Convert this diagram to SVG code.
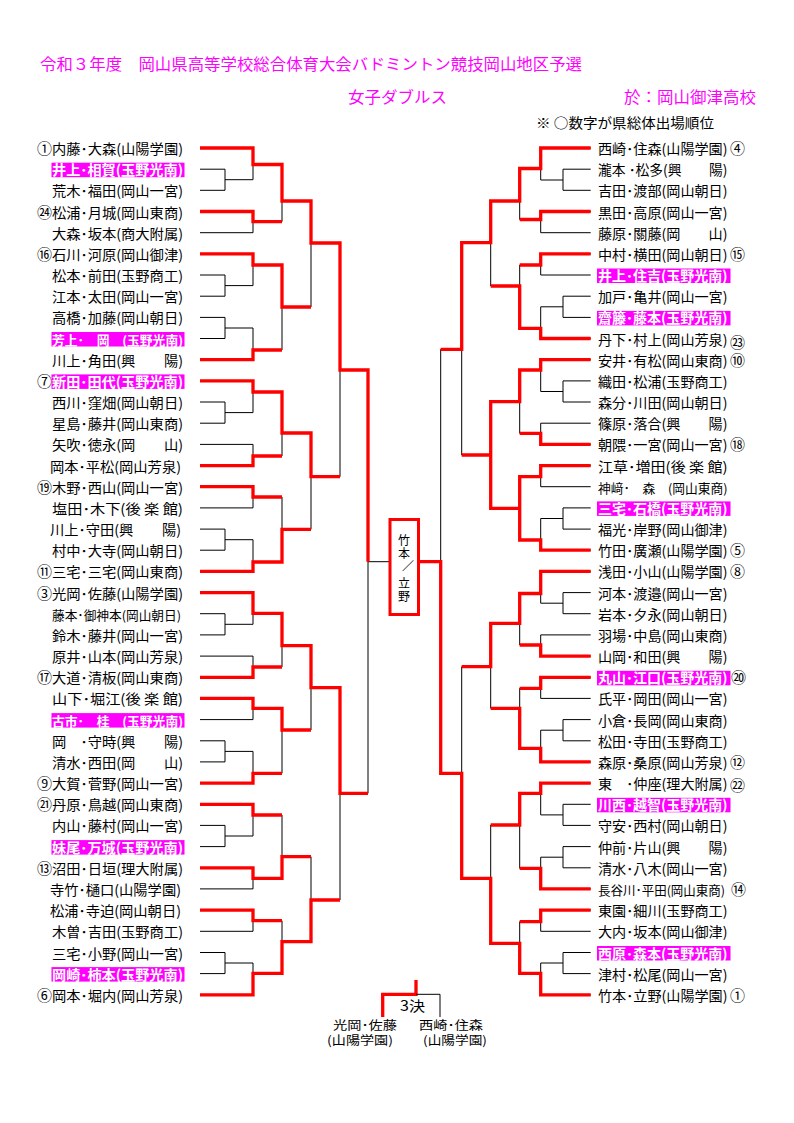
<svg xmlns="http://www.w3.org/2000/svg" width="794" height="1123" viewBox="0 0 794 1123">
<style>
text{font-family:'Noto Sans CJK JP','Noto Sans CJK SC',sans-serif}
.hd{font-size:15.5px;fill:#f0f}
.nt{font-size:13.5px;fill:#000}
.nm{font-size:14px;fill:#000}
.nc{font-size:12.6px;fill:#000}
.sm{font-size:12px;fill:#000}
.hl{fill:#fff;font-weight:bold}
.bg{fill:#f0f}
.sdl{font-size:15px;fill:#000;text-anchor:end}
.sdr{font-size:15px;fill:#000}
.k{fill:none;stroke:#000;stroke-width:1}
.r{fill:none;stroke:#f00;stroke-width:3.3;stroke-linejoin:miter;stroke-linecap:butt}
.bx{font-size:12px;fill:#000;text-anchor:middle}
</style>
<rect x="0" y="0" width="794" height="1123" fill="#fff"/>
<g id="header">
<text class="hd" x="40" y="70" textLength="542" lengthAdjust="spacingAndGlyphs">令和３年度　岡山県高等学校総合体育大会バドミントン競技岡山地区予選</text>
<text class="hd" x="348" y="103" textLength="99" lengthAdjust="spacingAndGlyphs">女子ダブルス</text>
<text class="hd" x="624" y="103" textLength="132" lengthAdjust="spacingAndGlyphs">於：岡山御津高校</text>
<text class="nt" x="536" y="128" textLength="178" lengthAdjust="spacingAndGlyphs">※ ○数字が県総体出場順位</text>
</g>
<g id="connectors">
<path class="k" d="M200 148H253M200 169.2H225M200 190.3H225M200 211.5H253M200 232.7H253M200 253.9H253M200 275H225M200 296.2H225M200 317.4H225M200 338.5H225M200 359.7H253M200 380.9H253M200 402H225M200 423.2H225M200 444.4H253M200 465.6H253M200 486.7H253M200 507.9H253M200 529.1H225M200 550.2H225M200 571.4H253M200 592.6H253M200 613.7H225M200 634.9H225M200 656.1H253M200 677.3H253M200 698.4H253M200 719.6H253M200 740.8H225M200 761.9H225M200 783.1H253M200 804.3H253M200 825.4H225M200 846.6H225M200 867.8H253M200 888.9H253M200 910.1H253M200 931.3H253M200 952.5H225M200 973.6H225M200 994.8H253
M225 169.2V190.3M225 179.7H253M225 275V296.2M225 285.6H253M225 317.4V338.5M225 328H253M225 402V423.2M225 412.6H253M225 529.1V550.2M225 539.7H253M225 613.7V634.9M225 624.3H253M225 740.8V761.9M225 751.4H253M225 825.4V846.6M225 836H253M225 952.5V973.6M225 963H253
M253 148V179.7M253 164.5H282M253 211.5V232.7M253 221.7H282M253 253.9V285.6M253 265H282M253 328V359.7M253 350H282M253 380.9V412.6M253 392H282M253 444.4V465.6M253 456H282M253 486.7V507.9M253 497H282M253 539.7V571.4M253 562H282M253 592.6V624.3M253 613.3H282M253 656.1V677.3M253 667H282M253 698.4V719.6M253 708.3H282M253 751.4V783.1M253 773.3H282M253 804.3V836M253 815H282M253 867.8V888.9M253 878.3H282M253 910.1V931.3M253 920.7H282M253 963V994.8M253 973.3H282
M282 164.5V221.7M282 201H311M282 265V350M282 307H311M282 392V456M282 433H311M282 497V562M282 529.3H311M282 613.3V667M282 645.7H311M282 708.3V773.3M282 730H311M282 815V878.3M282 856.7H311M282 920.7V973.3M282 941.7H311
M311 201V307M311 243H340M311 433V529.3M311 476.7H340M311 645.7V730M311 687.7H340M311 856.7V941.7M311 900H340
M340 243V476.7M340 370H368M340 687.7V900M340 793.3H368M368 370V793.3M368 561.7H390"/>
<path class="k" d="M590.7 148H540.7M590.7 169.2H563M590.7 190.3H563M590.7 211.5H540.7M590.7 232.7H540.7M590.7 253.9H540.7M590.7 275H540.7M590.7 296.2H563M590.7 317.4H563M590.7 338.5H540.7M590.7 359.7H540.7M590.7 380.9H563M590.7 402H563M590.7 423.2H540.7M590.7 444.4H540.7M590.7 465.6H540.7M590.7 486.7H540.7M590.7 507.9H563M590.7 529.1H563M590.7 550.2H540.7M590.7 571.4H540.7M590.7 592.6H563M590.7 613.7H563M590.7 634.9H540.7M590.7 656.1H540.7M590.7 677.3H540.7M590.7 698.4H540.7M590.7 719.6H563M590.7 740.8H563M590.7 761.9H540.7M590.7 783.1H540.7M590.7 804.3H563M590.7 825.4H563M590.7 846.6H563M590.7 867.8H563M590.7 888.9H540.7M590.7 910.1H540.7M590.7 931.3H540.7M590.7 952.5H563M590.7 973.6H563M590.7 994.8H540.7
M563 169.2V190.3M563 180H540.7M563 296.2V317.4M563 306.8H540.7M563 380.9V402M563 391.5H540.7M563 507.9V529.1M563 518.5H540.7M563 592.6V613.7M563 603.2H540.7M563 719.6V740.8M563 730.2H540.7M563 804.3V825.4M563 814.9H540.7M563 846.6V867.8M563 857.2H540.7M563 952.5V973.6M563 963H540.7
M540.7 148V180M540.7 168.5H519.7M540.7 211.5V232.7M540.7 219.5H519.7M540.7 253.9V275M540.7 265H519.7M540.7 306.8V338.5M540.7 328.3H519.7M540.7 359.7V391.5M540.7 370H519.7M540.7 423.2V444.4M540.7 433.3H519.7M540.7 465.6V486.7M540.7 476.7H519.7M540.7 518.5V550.2M540.7 540H519.7M540.7 571.4V603.2M540.7 593.5H519.7M540.7 634.9V656.1M540.7 645H519.7M540.7 677.3V698.4M540.7 688.3H519.7M540.7 730.2V761.9M540.7 748.3H519.7M540.7 783.1V814.9M540.7 793.3H519.7M540.7 857.2V888.9M540.7 868.3H519.7M540.7 910.1V931.3M540.7 921.7H519.7M540.7 963V994.8M540.7 973.3H519.7
M519.7 168.5V219.5M519.7 201H490.7M519.7 265V328.3M519.7 286H490.7M519.7 370V433.3M519.7 401.7H490.7M519.7 476.7V540M519.7 508.3H490.7M519.7 593.5V645M519.7 623.3H490.7M519.7 688.3V748.3M519.7 708.3H490.7M519.7 793.3V868.3M519.7 825H490.7M519.7 921.7V973.3M519.7 943.3H490.7
M490.7 201V286M490.7 242.7H461.7M490.7 401.7V508.3M490.7 455H461.7M490.7 623.3V708.3M490.7 666.7H461.7M490.7 825V943.3M490.7 878.3H461.7
M461.7 242.7V455M461.7 349.3H440.7M461.7 666.7V878.3M461.7 773.3H440.7M440.7 349.3V773.3M440.7 561.7H419"/>
<path class="r" d="M200 148H253V164.5H282V201H311V243H340V370H368V561.7
M200 211.5H253V221.7H282
M200 253.9H253V265H282V307H311
M200 359.7H253V350H282
M200 380.9H253V392H282V433H311V476.7H340
M200 465.6H253V456H282
M200 486.7H253V497H282
M200 571.4H253V562H282V529.3H311
M200 592.6H253V613.3H282V645.7H311V687.7H340V793.3H368
M200 677.3H253V667H282
M200 698.4H253V708.3H282V730H311
M200 783.1H253V773.3H282
M200 804.3H253V815H282
M200 867.8H253V878.3H282V856.7H311
M200 910.1H253V920.7H282
M200 994.8H253V973.3H282V941.7H311V900H340"/>
<path class="r" d="M590.7 148H540.7V168.5H519.7V201H490.7V242.7H461.7V349.3H440.7
M590.7 211.5H540.7V219.5H519.7
M590.7 253.9H540.7V265H519.7
M590.7 338.5H540.7V328.3H519.7V286H490.7
M590.7 359.7H540.7V370H519.7V401.7H490.7V455H461.7
M590.7 444.4H540.7V433.3H519.7
M590.7 465.6H540.7V476.7H519.7V508.3
M590.7 550.2H540.7V540H519.7V508.3H490.7V455
M590.7 571.4H540.7V593.5H519.7V623.3H490.7V666.7H461.7
M590.7 656.1H540.7V645H519.7
M590.7 677.3H540.7V688.3H519.7
M590.7 761.9H540.7V748.3H519.7V708.3H490.7
M590.7 783.1H540.7V793.3H519.7V825H490.7
M590.7 888.9H540.7V868.3H519.7
M590.7 910.1H540.7V921.7H519.7
M590.7 994.8H540.7V973.3H519.7V943.3H490.7V878.3H461.7V773.3H440.7V561.7H419"/>
<path class="r" d="M416 980V994.3H382.7V1017"/>
<path class="k" d="M416 994.3H440V1017"/>
</g>
<g id="final">
<rect x="390" y="519.5" width="28.5" height="95" fill="#fff" stroke="#f00" stroke-width="3"/>
<text class="bx" x="404" y="545">竹</text>
<text class="bx" x="404" y="558">本</text>
<text class="bx" x="408" y="571">／</text>
<text class="bx" x="404" y="588">立</text>
<text class="bx" x="404" y="601">野</text>
</g>
<g id="third">
<text class="nm" x="400" y="1011" textLength="25" lengthAdjust="spacingAndGlyphs">3決</text>
<text class="sm" x="333" y="1030" textLength="64" lengthAdjust="spacingAndGlyphs">光岡･佐藤</text>
<text class="sm" x="327" y="1045" textLength="66" lengthAdjust="spacingAndGlyphs">(山陽学園)</text>
<text class="sm" x="419" y="1030" textLength="64" lengthAdjust="spacingAndGlyphs">西崎･住森</text>
<text class="sm" x="423" y="1045" textLength="64" lengthAdjust="spacingAndGlyphs">(山陽学園)</text>
</g>
<g id="L01"><text class="sdl" x="52" y="154">①</text><text class="nm" x="52" y="154" textLength="131" lengthAdjust="spacingAndGlyphs">内藤･大森(山陽学園)</text></g>
<g id="L02"><rect class="bg" x="51.5" y="162.7" width="133" height="14.5"/><text class="nm hl" x="52" y="175.2" textLength="131" lengthAdjust="spacingAndGlyphs">井上･相賀(玉野光南)</text></g>
<g id="L03"><text class="nm" x="52" y="196.3" textLength="131" lengthAdjust="spacingAndGlyphs">荒木･福田(岡山一宮)</text></g>
<g id="L04"><text class="sdl" x="52" y="217.5">㉔</text><text class="nm" x="52" y="217.5" textLength="131" lengthAdjust="spacingAndGlyphs">松浦･月城(岡山東商)</text></g>
<g id="L05"><text class="nm" x="52" y="238.7" textLength="131" lengthAdjust="spacingAndGlyphs">大森･坂本(商大附属)</text></g>
<g id="L06"><text class="sdl" x="52" y="259.9">⑯</text><text class="nm" x="52" y="259.9" textLength="131" lengthAdjust="spacingAndGlyphs">石川･河原(岡山御津)</text></g>
<g id="L07"><text class="nm" x="52" y="281" textLength="131" lengthAdjust="spacingAndGlyphs">松本･前田(玉野商工)</text></g>
<g id="L08"><text class="nm" x="52" y="302.2" textLength="131" lengthAdjust="spacingAndGlyphs">江本･太田(岡山一宮)</text></g>
<g id="L09"><text class="nm" x="52" y="323.4" textLength="131" lengthAdjust="spacingAndGlyphs">高橋･加藤(岡山朝日)</text></g>
<g id="L10"><rect class="bg" x="51.5" y="332" width="133" height="14.5"/><text class="nc hl" x="52" y="344.5" textLength="131" lengthAdjust="spacingAndGlyphs">芳上･　岡　(玉野光南)</text></g>
<g id="L11"><text class="nm" x="52" y="365.7" textLength="131" lengthAdjust="spacingAndGlyphs">川上･角田(興　　陽)</text></g>
<g id="L12"><text class="sdl" x="52" y="386.9">⑦</text><rect class="bg" x="51.5" y="374.4" width="133" height="14.5"/><text class="nm hl" x="52" y="386.9" textLength="131" lengthAdjust="spacingAndGlyphs">新田･田代(玉野光南)</text></g>
<g id="L13"><text class="nm" x="52" y="408" textLength="131" lengthAdjust="spacingAndGlyphs">西川･窪畑(岡山朝日)</text></g>
<g id="L14"><text class="nm" x="52" y="429.2" textLength="131" lengthAdjust="spacingAndGlyphs">星島･藤井(岡山東商)</text></g>
<g id="L15"><text class="nm" x="52" y="450.4" textLength="131" lengthAdjust="spacingAndGlyphs">矢吹･徳永(岡　　山)</text></g>
<g id="L16"><text class="nm" x="50" y="471.6" textLength="131" lengthAdjust="spacingAndGlyphs">岡本･平松(岡山芳泉)</text></g>
<g id="L17"><text class="sdl" x="52" y="492.7">⑲</text><text class="nm" x="52" y="492.7" textLength="131" lengthAdjust="spacingAndGlyphs">木野･西山(岡山一宮)</text></g>
<g id="L18"><text class="nm" x="52" y="513.9" textLength="131" lengthAdjust="spacingAndGlyphs">塩田･木下(後 楽 館)</text></g>
<g id="L19"><text class="nm" x="50" y="535.1" textLength="131" lengthAdjust="spacingAndGlyphs">川上･守田(興　　陽)</text></g>
<g id="L20"><text class="nm" x="52" y="556.2" textLength="131" lengthAdjust="spacingAndGlyphs">村中･大寺(岡山朝日)</text></g>
<g id="L21"><text class="sdl" x="52" y="577.4">⑪</text><text class="nm" x="52" y="577.4" textLength="131" lengthAdjust="spacingAndGlyphs">三宅･三宅(岡山東商)</text></g>
<g id="L22"><text class="sdl" x="52" y="598.6">③</text><text class="nm" x="52" y="598.6" textLength="131" lengthAdjust="spacingAndGlyphs">光岡･佐藤(山陽学園)</text></g>
<g id="L23"><text class="nc" x="52" y="619.7" textLength="129" lengthAdjust="spacingAndGlyphs">藤本･御神本(岡山朝日)</text></g>
<g id="L24"><text class="nm" x="52" y="640.9" textLength="131" lengthAdjust="spacingAndGlyphs">鈴木･藤井(岡山一宮)</text></g>
<g id="L25"><text class="nm" x="52" y="662.1" textLength="131" lengthAdjust="spacingAndGlyphs">原井･山本(岡山芳泉)</text></g>
<g id="L26"><text class="sdl" x="52" y="683.3">⑰</text><text class="nm" x="52" y="683.3" textLength="131" lengthAdjust="spacingAndGlyphs">大道･清板(岡山東商)</text></g>
<g id="L27"><text class="nm" x="52" y="704.4" textLength="131" lengthAdjust="spacingAndGlyphs">山下･堀江(後 楽 館)</text></g>
<g id="L28"><rect class="bg" x="51.5" y="713.1" width="133" height="14.5"/><text class="nc hl" x="52" y="725.6" textLength="131" lengthAdjust="spacingAndGlyphs">古市･　桂　(玉野光南)</text></g>
<g id="L29"><text class="nm" x="52" y="746.8" textLength="131" lengthAdjust="spacingAndGlyphs">岡　･守時(興　　陽)</text></g>
<g id="L30"><text class="nm" x="52" y="767.9" textLength="131" lengthAdjust="spacingAndGlyphs">清水･西田(岡　　山)</text></g>
<g id="L31"><text class="sdl" x="52" y="789.1">⑨</text><text class="nm" x="52" y="789.1" textLength="131" lengthAdjust="spacingAndGlyphs">大賀･菅野(岡山一宮)</text></g>
<g id="L32"><text class="sdl" x="52" y="810.3">㉑</text><text class="nm" x="52" y="810.3" textLength="131" lengthAdjust="spacingAndGlyphs">丹原･鳥越(岡山東商)</text></g>
<g id="L33"><text class="nm" x="52" y="831.4" textLength="131" lengthAdjust="spacingAndGlyphs">内山･藤村(岡山一宮)</text></g>
<g id="L34"><rect class="bg" x="51.5" y="840.1" width="133" height="14.5"/><text class="nm hl" x="52" y="852.6" textLength="131" lengthAdjust="spacingAndGlyphs">妹尾･万城(玉野光南)</text></g>
<g id="L35"><text class="sdl" x="52" y="873.8">⑬</text><text class="nm" x="52" y="873.8" textLength="131" lengthAdjust="spacingAndGlyphs">沼田･日垣(理大附属)</text></g>
<g id="L36"><text class="nm" x="50" y="894.9" textLength="131" lengthAdjust="spacingAndGlyphs">寺竹･樋口(山陽学園)</text></g>
<g id="L37"><text class="nm" x="50" y="916.1" textLength="131" lengthAdjust="spacingAndGlyphs">松浦･寺迫(岡山朝日)</text></g>
<g id="L38"><text class="nm" x="52" y="937.3" textLength="131" lengthAdjust="spacingAndGlyphs">木曽･吉田(玉野商工)</text></g>
<g id="L39"><text class="nm" x="52" y="958.5" textLength="131" lengthAdjust="spacingAndGlyphs">三宅･小野(岡山一宮)</text></g>
<g id="L40"><rect class="bg" x="51.5" y="967.1" width="133" height="14.5"/><text class="nm hl" x="52" y="979.6" textLength="131" lengthAdjust="spacingAndGlyphs">岡崎･柿本(玉野光南)</text></g>
<g id="L41"><text class="sdl" x="52" y="1000.8">⑥</text><text class="nm" x="52" y="1000.8" textLength="131" lengthAdjust="spacingAndGlyphs">岡本･堀内(岡山芳泉)</text></g>
<g id="R01"><text class="nm" x="598" y="154" textLength="129.5" lengthAdjust="spacingAndGlyphs">西崎･住森(山陽学園)</text><text class="sdr" x="730" y="154">④</text></g>
<g id="R02"><text class="nm" x="598" y="175.2" textLength="129.5" lengthAdjust="spacingAndGlyphs">瀧本 ･松多(興　　陽)</text></g>
<g id="R03"><text class="nm" x="598" y="196.3" textLength="129.5" lengthAdjust="spacingAndGlyphs">吉田･渡部(岡山朝日)</text></g>
<g id="R04"><text class="nm" x="598" y="217.5" textLength="129.5" lengthAdjust="spacingAndGlyphs">黒田･高原(岡山一宮)</text></g>
<g id="R05"><text class="nm" x="598" y="238.7" textLength="129.5" lengthAdjust="spacingAndGlyphs">藤原･關藤(岡　　山)</text></g>
<g id="R06"><text class="nm" x="598" y="259.9" textLength="129.5" lengthAdjust="spacingAndGlyphs">中村･横田(岡山朝日)</text><text class="sdr" x="730" y="259.9">⑮</text></g>
<g id="R07"><rect class="bg" x="597" y="268.5" width="133.5" height="14.5"/><text class="nm hl" x="598" y="281" textLength="129.5" lengthAdjust="spacingAndGlyphs">井上･住吉(玉野光南)</text></g>
<g id="R08"><text class="nm" x="598" y="302.2" textLength="129.5" lengthAdjust="spacingAndGlyphs">加戸･亀井(岡山一宮)</text></g>
<g id="R09"><rect class="bg" x="597" y="310.9" width="133.5" height="14.5"/><text class="nm hl" x="598" y="323.4" textLength="129.5" lengthAdjust="spacingAndGlyphs">齋籐･藤本(玉野光南)</text></g>
<g id="R10"><text class="nm" x="598" y="344.5" textLength="129.5" lengthAdjust="spacingAndGlyphs">丹下･村上(岡山芳泉)</text><text class="sdr" x="730" y="348">㉓</text></g>
<g id="R11"><text class="nm" x="598" y="365.7" textLength="129.5" lengthAdjust="spacingAndGlyphs">安井･有松(岡山東商)</text><text class="sdr" x="730" y="366">⑩</text></g>
<g id="R12"><text class="nm" x="598" y="386.9" textLength="129.5" lengthAdjust="spacingAndGlyphs">織田･松浦(玉野商工)</text></g>
<g id="R13"><text class="nm" x="598" y="408" textLength="129.5" lengthAdjust="spacingAndGlyphs">森分･川田(岡山朝日)</text></g>
<g id="R14"><text class="nm" x="598" y="429.2" textLength="129.5" lengthAdjust="spacingAndGlyphs">篠原･落合(興　　陽)</text></g>
<g id="R15"><text class="nm" x="598" y="450.4" textLength="129.5" lengthAdjust="spacingAndGlyphs">朝隈･一宮(岡山一宮)</text><text class="sdr" x="730" y="450.4">⑱</text></g>
<g id="R16"><text class="nm" x="598" y="471.6" textLength="129.5" lengthAdjust="spacingAndGlyphs">江草･増田(後 楽 館)</text></g>
<g id="R17"><text class="nc" x="598" y="492.7" textLength="129.5" lengthAdjust="spacingAndGlyphs">神﨑･　森　(岡山東商)</text></g>
<g id="R18"><rect class="bg" x="597" y="501.4" width="133.5" height="14.5"/><text class="nm hl" x="598" y="513.9" textLength="129.5" lengthAdjust="spacingAndGlyphs">三宅･石橋(玉野光南)</text></g>
<g id="R19"><text class="nm" x="598" y="535.1" textLength="129.5" lengthAdjust="spacingAndGlyphs">福光･岸野(岡山御津)</text></g>
<g id="R20"><text class="nm" x="598" y="556.2" textLength="129.5" lengthAdjust="spacingAndGlyphs">竹田･廣瀬(山陽学園)</text><text class="sdr" x="730" y="556.2">⑤</text></g>
<g id="R21"><text class="nm" x="598" y="577.4" textLength="129.5" lengthAdjust="spacingAndGlyphs">浅田･小山(山陽学園)</text><text class="sdr" x="730" y="577.4">⑧</text></g>
<g id="R22"><text class="nm" x="598" y="598.6" textLength="129.5" lengthAdjust="spacingAndGlyphs">河本･渡邉(岡山一宮)</text></g>
<g id="R23"><text class="nm" x="598" y="619.7" textLength="129.5" lengthAdjust="spacingAndGlyphs">岩本･夕永(岡山朝日)</text></g>
<g id="R24"><text class="nm" x="598" y="640.9" textLength="129.5" lengthAdjust="spacingAndGlyphs">羽場･中島(岡山東商)</text></g>
<g id="R25"><text class="nm" x="598" y="662.1" textLength="129.5" lengthAdjust="spacingAndGlyphs">山岡･和田(興　　陽)</text></g>
<g id="R26"><rect class="bg" x="597" y="670.8" width="133.5" height="14.5"/><text class="nm hl" x="598" y="683.3" textLength="129.5" lengthAdjust="spacingAndGlyphs">丸山･江口(玉野光南)</text><text class="sdr" x="731" y="683.3">⑳</text></g>
<g id="R27"><text class="nm" x="598" y="704.4" textLength="129.5" lengthAdjust="spacingAndGlyphs">氏平･岡田(岡山一宮)</text></g>
<g id="R28"><text class="nm" x="598" y="725.6" textLength="129.5" lengthAdjust="spacingAndGlyphs">小倉･長岡(岡山東商)</text></g>
<g id="R29"><text class="nm" x="598" y="746.8" textLength="129.5" lengthAdjust="spacingAndGlyphs">松田･寺田(玉野商工)</text></g>
<g id="R30"><text class="nm" x="598" y="767.9" textLength="129.5" lengthAdjust="spacingAndGlyphs">森原･桑原(岡山芳泉)</text><text class="sdr" x="730" y="767.9">⑫</text></g>
<g id="R31"><text class="nm" x="598" y="789.1" textLength="129.5" lengthAdjust="spacingAndGlyphs">東　･仲座(理大附属)</text><text class="sdr" x="730" y="790.5">㉒</text></g>
<g id="R32"><rect class="bg" x="597" y="797.8" width="133.5" height="14.5"/><text class="nm hl" x="598" y="810.3" textLength="129.5" lengthAdjust="spacingAndGlyphs">川西･越智(玉野光南)</text></g>
<g id="R33"><text class="nm" x="598" y="831.4" textLength="129.5" lengthAdjust="spacingAndGlyphs">守安･西村(岡山朝日)</text></g>
<g id="R34"><text class="nm" x="598" y="852.6" textLength="129.5" lengthAdjust="spacingAndGlyphs">仲前･片山(興　　陽)</text></g>
<g id="R35"><text class="nm" x="598" y="873.8" textLength="129.5" lengthAdjust="spacingAndGlyphs">清水･八木(岡山一宮)</text></g>
<g id="R36"><text class="nc" x="598" y="894.9" textLength="127" lengthAdjust="spacingAndGlyphs">長谷川･平田(岡山東商)</text><text class="sdr" x="731" y="894.9">⑭</text></g>
<g id="R37"><text class="nm" x="598" y="916.1" textLength="129.5" lengthAdjust="spacingAndGlyphs">東園･細川(玉野商工)</text></g>
<g id="R38"><text class="nm" x="598" y="937.3" textLength="129.5" lengthAdjust="spacingAndGlyphs">大内･坂本(岡山御津)</text></g>
<g id="R39"><rect class="bg" x="597" y="946" width="133.5" height="14.5"/><text class="nm hl" x="598" y="958.5" textLength="129.5" lengthAdjust="spacingAndGlyphs">西原･森本(玉野光南)</text></g>
<g id="R40"><text class="nm" x="598" y="979.6" textLength="129.5" lengthAdjust="spacingAndGlyphs">津村･松尾(岡山一宮)</text></g>
<g id="R41"><text class="nm" x="598" y="1000.8" textLength="129.5" lengthAdjust="spacingAndGlyphs">竹本･立野(山陽学園)</text><text class="sdr" x="730" y="1000.8">①</text></g>
</svg>
